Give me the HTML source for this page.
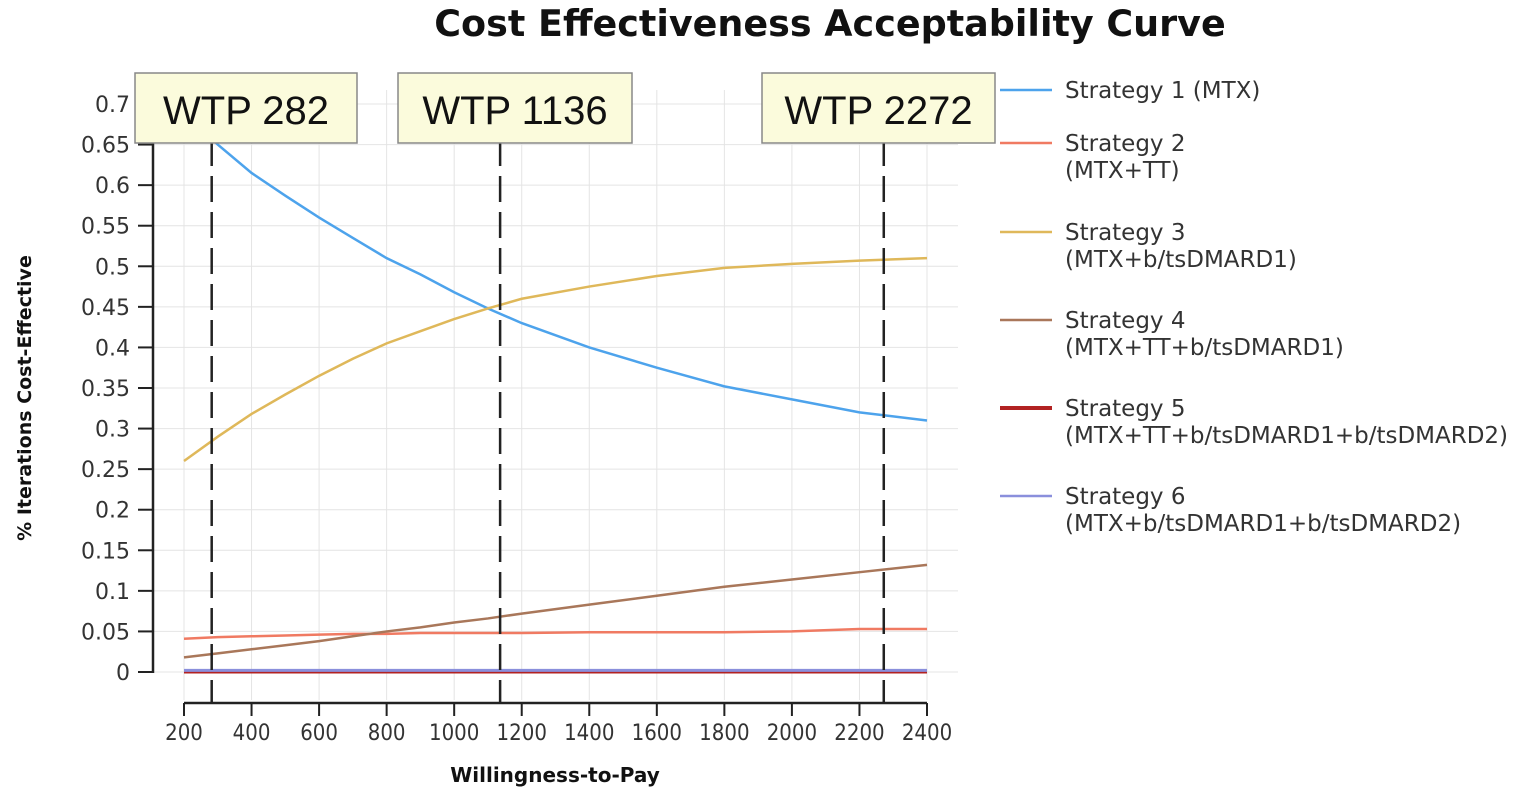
<!DOCTYPE html>
<html><head><meta charset="utf-8"><style>
body{margin:0;background:#fff;}
svg text{font-family:"Liberation Sans",sans-serif;}
</style></head><body>
<svg id="c" width="1535" height="795" xmlns="http://www.w3.org/2000/svg">
<text x="830" y="36" text-anchor="middle" font-size="36.5" font-weight="bold" fill="#111" style="font-family:'DejaVu Sans',sans-serif">Cost Effectiveness Acceptability Curve</text>
<g id="grid"></g><g id="axes"></g><g id="series"></g><g id="wtp"></g><g id="legend"></g>
<text x="555" y="782" text-anchor="middle" font-size="20" font-weight="bold" fill="#111" style="font-family:'DejaVu Sans',sans-serif">Willingness-to-Pay</text>
<text transform="translate(31,398) rotate(-90)" text-anchor="middle" font-size="19" font-weight="bold" fill="#111" style="font-family:'DejaVu Sans',sans-serif">% Iterations Cost-Effective</text>
</svg>
<script>
const xTicks=[200,400,600,800,1000,1200,1400,1600,1800,2000,2200,2400];
const yTicks=[0,0.05,0.1,0.15,0.2,0.25,0.3,0.35,0.4,0.45,0.5,0.55,0.6,0.65,0.7];
const wtpX=[200,300,400,500,600,700,800,900,1000,1100,1200,1400,1600,1800,2000,2200,2400];
const s1=[0.69,0.65,0.615,0.587,0.56,0.535,0.51,0.49,0.468,0.448,0.43,0.40,0.375,0.352,0.336,0.32,0.31];
const s2=[0.041,0.043,0.044,0.045,0.046,0.047,0.047,0.048,0.048,0.048,0.048,0.049,0.049,0.049,0.050,0.053,0.053];
const s3=[0.26,0.29,0.318,0.342,0.365,0.386,0.405,0.42,0.435,0.448,0.46,0.475,0.488,0.498,0.503,0.507,0.51];
const s4=[0.018,0.023,0.028,0.033,0.038,0.044,0.05,0.055,0.061,0.066,0.072,0.083,0.094,0.105,0.114,0.123,0.132];
const s5=[0,0,0,0,0,0,0,0,0,0,0,0,0,0,0,0,0];
const s6=[0.002,0.002,0.002,0.002,0.002,0.002,0.002,0.002,0.002,0.002,0.002,0.002,0.002,0.002,0.002,0.002,0.002];
const wtpLines=[282,1136,2272];
const wtpLabels=["WTP 282","WTP 1136","WTP 2272"];
const names=["Strategy 1 (MTX)","Strategy 2|(MTX+TT)","Strategy 3|(MTX+b/tsDMARD1)","Strategy 4|(MTX+TT+b/tsDMARD1)","Strategy 5|(MTX+TT+b/tsDMARD1+b/tsDMARD2)","Strategy 6|(MTX+b/tsDMARD1+b/tsDMARD2)"];
const colors=["#4da3ec","#f07a62","#dfb85a","#a9775a","#b22222","#8a8fdc"];
const X=v=>184+(v-200)*(927-184)/2200;
const Y=v=>672-v*(672-104)/0.7;
const NS="http://www.w3.org/2000/svg";
function mk(p,t,a){const e=document.createElementNS(NS,t);for(const k in a)e.setAttribute(k,a[k]);document.getElementById(p).appendChild(e);return e;}
xTicks.forEach(t=>{
 const g=mk('grid','line',{x1:X(t),x2:X(t),y1:90,y2:700,stroke:'#e4e4e4'});
 
 
 mk('axes','line',{x1:X(t),x2:X(t),y1:703,y2:716,stroke:'#222','stroke-width':2});
 const l=mk('axes','text',{x:X(t),y:740,'text-anchor':'middle','font-size':22,fill:'#333',style:"font-family:'DejaVu Sans Condensed','DejaVu Sans',sans-serif"});l.textContent=t;
 
 
});
yTicks.forEach(t=>{
 const g=mk('grid','line',{x1:153,x2:958,y1:Y(t),y2:Y(t),stroke:'#e4e4e4'});
 
 
 mk('axes','line',{x1:138,x2:153,y1:Y(t),y2:Y(t),stroke:'#222','stroke-width':2});
 const l=mk('axes','text',{x:130,y:Y(t)+8,'text-anchor':'end','font-size':22,fill:'#333',style:"font-family:'DejaVu Sans',sans-serif"});l.textContent=t;
 
 
});
mk('axes','line',{x1:153,x2:153,y1:100,y2:673,stroke:'#222','stroke-width':2.5});
mk('axes','line',{x1:184,x2:927,y1:703,y2:703,stroke:'#222','stroke-width':2.5});
[s1,s2,s3,s4,s5,s6].forEach((s,i)=>{
 const p=mk('series','polyline',{points:s.map((v,j)=>X(wtpX[j])+','+Y(v)).join(' '),fill:'none',stroke:colors[i],'stroke-width':(i>=4?3:2.5)});
 
 
});
const boxW=[222,234,233];
wtpLines.forEach((w,i)=>{
 const d=mk('wtp','line',{x1:X(w),x2:X(w),y1:140,y2:703,stroke:'#222','stroke-width':2.5,'stroke-dasharray':'26,10'});
 
 
 const bx=[135,398,762][i];
 const r=mk('wtp','rect',{x:bx,y:73,width:boxW[i],height:70,fill:'#fbfbdc',stroke:'#888','stroke-width':1.5});
 
 
 const t=mk('wtp','text',{x:bx+boxW[i]/2,y:124,'text-anchor':'middle','font-size':40,fill:'#111'});t.textContent=wtpLabels[i];
 
 
});
const ly=[90,143,232,320,408,496];
names.forEach((n,i)=>{
 const l=mk('legend','line',{x1:1000,x2:1052,y1:ly[i],y2:ly[i],stroke:colors[i],'stroke-width':i==4?4:2.5});
 
 
 n.split('|').forEach((s,k)=>{
  const t=mk('legend','text',{x:1065,y:ly[i]+8+k*27,'font-size':23,fill:'#333',style:"font-family:'DejaVu Sans',sans-serif"});t.textContent=s;
  
  
 });
});
</script>
</body></html>
